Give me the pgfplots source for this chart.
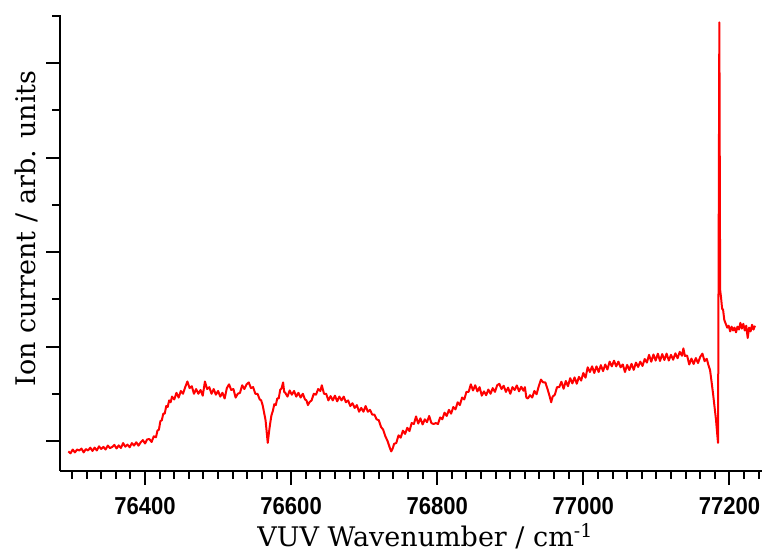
\documentclass[border=0pt]{standalone}
\usepackage{fontspec}
\setmainfont{DejaVu Serif}
\newfontfamily\tickfont{Liberation Sans}[FakeStretch=0.9]
\usepackage{pgfplots}
\pgfplotsset{compat=1.18}

\begin{document}
\begin{tikzpicture}
\begin{axis}[
  scale only axis,
  width=702bp, height=455.7bp,
  xmin=76283.6, xmax=77244.6,
  ymin=-0.314, ymax=4.508,
  axis x line=bottom, axis y line=left,
  axis line style={-, line width=2bp},
  every tick/.style={black, line width=2bp},
  tick align=outside,
  major tick length=14bp, minor tick length=8bp,
  xtick={76400,76600,76800,77000,77200},
  minor xtick={76300,76320,...,77240},
  ytick={0,1,2,3,4},
  minor ytick={0.5,1.5,2.5,3.5,4.5},
  yticklabels={},
  scaled x ticks=false,
  /pgf/number format/.cd, 1000 sep={}, assume math mode=true, /pgfplots/.cd,
  xticklabel style={font=\tickfont\bfseries\fontsize{24.5bp}{28bp}\selectfont, anchor=base, yshift=-30bp},
  xlabel={VUV Wavenumber / cm\textsuperscript{-1}},
  ylabel={Ion current / arb. units},
  xlabel style={font=\fontsize{27bp}{32bp}\selectfont, inner sep=0pt, at={(axis description cs:0.52,-0.166)}, anchor=base},
  ylabel style={font=\fontsize{27bp}{32bp}\selectfont, inner sep=0pt, at={(axis description cs:-0.0356,0.5315)}, anchor=base},
]
\addplot[red, line width=2bp, line join=round, no markers] coordinates {
(76295,-0.11)(76298,-0.13)(76301,-0.09)(76304,-0.12)(76307,-0.09)(76310,-0.10)(76313,-0.08)(76316,-0.12)(76319,-0.085)(76322,-0.10)(76325,-0.07)(76328,-0.105)(76331,-0.07)(76334,-0.10)(76337,-0.056)(76340,-0.084)(76343,-0.062)(76346,-0.09)(76349,-0.048)(76352,-0.075)(76355,-0.063)(76358,-0.041)(76361,-0.079)(76364,-0.046)(76367,-0.074)(76370,-0.022)(76373,-0.06)(76376,-0.038)(76379,-0.066)(76382,-0.022)(76385,-0.048)(76388,-0.013)(76391,-0.049)(76394,-0.015)(76397,0.01)(76400,-0.026)(76403,0.018)
(76406,0.02)(76409,-0.01)(76412,0.05)(76415,0.04)(76417,0.11)(76419,0.12)(76421,0.21)(76423,0.22)(76425,0.29)(76427,0.29)(76429,0.37)(76431,0.36)(76433,0.43)(76435,0.41)(76437,0.47)(76440,0.44)(76443,0.51)(76446,0.46)(76449,0.53)(76452,0.50)(76455,0.57)(76458,0.63)(76461,0.56)(76464,0.58)(76467,0.50)(76470,0.55)(76473,0.50)(76476,0.54)(76479,0.48)(76482,0.63)(76485,0.55)(76488,0.57)(76491,0.50)(76494,0.55)(76497,0.49)(76500,0.53)(76503,0.47)(76506,0.51)(76509,0.45)(76512,0.56)(76515,0.60)(76518,0.54)(76521,0.55)(76524,0.46)(76527,0.50)(76530,0.51)(76533,0.59)(76536,0.55)(76539,0.60)(76542,0.62)(76545,0.56)(76548,0.57)(76551,0.50)(76554,0.50)(76557,0.44)(76559,0.43)(76561,0.38)(76563,0.30)(76565,0.22)(76566.5,0.10)(76568,-0.02)(76569.5,0.08)(76571,0.17)(76573,0.27)(76575,0.32)(76577,0.39)(76579,0.38)(76581,0.45)(76583,0.45)(76585,0.54)(76587,0.56)(76589,0.62)(76590.5,0.52)(76592,0.51)
(76595,0.47)(76598,0.535)(76601,0.49)(76604,0.53)(76607,0.47)(76610,0.51)(76613,0.46)(76616,0.50)(76619,0.44)(76621,0.43)(76623,0.38)(76625,0.41)(76628,0.43)(76631,0.50)(76634,0.49)(76637,0.55)(76640,0.53)(76642,0.59)(76645,0.50)(76648,0.50)(76651,0.43)(76654,0.475)(76657,0.43)(76660,0.48)(76663,0.42)(76666,0.47)(76669,0.43)(76672,0.47)(76675,0.41)(76678,0.43)(76681,0.37)(76684,0.40)(76687,0.35)(76690,0.38)(76693,0.31)(76696,0.35)(76699,0.31)(76702,0.37)(76705,0.31)(76708,0.33)(76711,0.28)(76714,0.28)(76717,0.23)(76720,0.22)(76723,0.15)(76726,0.12)(76729,0.05)(76732,0.00)(76735,-0.07)(76737,-0.11)(76739,-0.08)(76741,-0.03)(76744,-0.02)(76747,0.06)
(76750,0.035)(76753,0.11)(76756,0.075)(76759,0.14)(76762,0.105)(76765,0.19)(76768,0.18)(76771,0.26)(76774,0.185)(76777,0.24)(76780,0.175)(76783,0.23)(76786,0.20)(76789,0.265)(76792,0.19)(76795,0.18)(76798,0.19)(76801,0.18)(76804,0.25)(76807,0.23)(76810,0.30)(76813,0.265)(76816,0.33)(76819,0.29)(76822,0.36)(76825,0.335)(76828,0.41)(76831,0.38)(76834,0.46)(76837,0.44)(76840,0.52)(76843,0.52)(76846,0.60)(76849,0.535)(76852,0.59)(76855,0.525)(76858,0.57)(76861,0.48)(76864,0.525)(76867,0.485)(76870,0.545)(76873,0.50)(76876,0.56)(76879,0.52)(76882,0.59)(76885,0.605)(76888,0.55)(76891,0.585)(76894,0.52)(76897,0.565)(76900,0.50)(76903,0.57)(76906,0.54)(76909,0.588)(76912,0.526)(76915,0.574)(76918,0.532)(76920,0.57)(76922,0.46)(76924,0.45)(76927,0.485)(76930,0.46)(76933,0.53)(76936,0.495)(76939,0.58)(76942,0.65)(76945,0.62)(76948,0.62)(76951,0.55)(76954,0.47)(76956,0.41)(76958,0.47)(76961,0.49)(76964,0.57)(76967,0.57)
(76970,0.627)(76973,0.553)(76976,0.635)(76979,0.58)(76982,0.665)(76985,0.61)(76988,0.673)(76991,0.606)(76994,0.679)(76997,0.64)(77000,0.72)(77003,0.67)(77006,0.78)(77009,0.73)(77012,0.79)(77015,0.72)(77018,0.79)(77021,0.73)(77024,0.803)(77027,0.74)(77030,0.81)(77033,0.757)(77036,0.84)(77039,0.79)(77042,0.85)(77045,0.79)(77048,0.84)(77051,0.78)(77054,0.81)(77057,0.73)(77060,0.806)(77063,0.751)(77066,0.817)(77069,0.753)(77072,0.83)(77075,0.784)(77078,0.84)(77081,0.794)(77084,0.868)(77087,0.83)(77090,0.912)(77093,0.839)(77096,0.916)(77099,0.851)(77102,0.924)(77105,0.847)(77108,0.92)(77111,0.857)(77114,0.925)(77117,0.852)(77120,0.912)(77123,0.86)(77126,0.928)(77129,0.876)(77132,0.944)(77135,0.902)(77137,0.98)(77139,0.90)(77142,0.905)(77145,0.81)(77148,0.872)(77151,0.815)(77154,0.878)(77157,0.825)(77160,0.89)(77163,0.925)(77166,0.845)(77169,0.87)(77171,0.81)(77173.5,0.75)(77175.5,0.63)(77177.6,0.50)(77179.5,0.37)(77181.7,0.22)(77183,0.10)(77184.4,-0.02)
(77186.2,4.43)(77187.3,1.60)(77188.5,1.52)(77190,1.40)(77191.3,1.39)(77193,1.28)(77195,1.24)(77197,1.20)(77199,1.22)(77201,1.16)(77203,1.21)(77205,1.17)(77207,1.20)(77209,1.15)(77211,1.21)(77213,1.18)(77215,1.25)(77217,1.19)(77219,1.24)(77221,1.17)(77223,1.22)(77225,1.09)(77227,1.20)(77229,1.16)(77231,1.23)(77233,1.18)(77235,1.22)
};
\end{axis}
\pgfresetboundingbox
\path[use as bounding box] (-60bp,-82.3bp) rectangle (703bp,470.7bp);
\end{tikzpicture}
\end{document}
